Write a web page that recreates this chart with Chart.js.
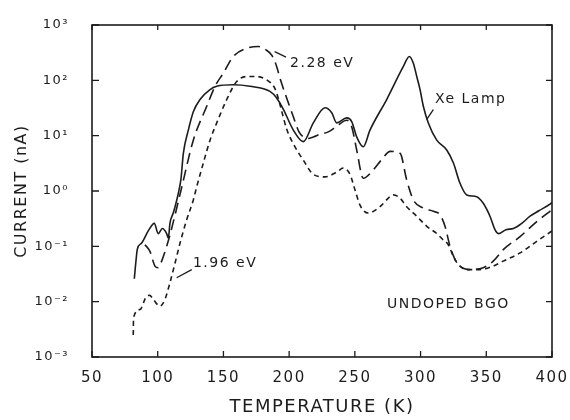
<!DOCTYPE html>
<html><head><meta charset="utf-8">
<script src="https://cdn.jsdelivr.net/npm/chart.js@4/dist/chart.umd.min.js"></script>
<style>html,body{margin:0;padding:0;background:#fff}</style>
</head><body>
<canvas id="c" width="570" height="420"></canvas>
<script>
// ---- data (temperature in K, current in nA) ----
const xeLampT = [82.2,83.5,84.5,87.8,92.8,97.4,100.4,103.5,106.8,108.1,109.3,111.8,113.2,115.7,117.7,119.5,123.3,127.1,132.2,139.8,144.9,157.5,170.2,185.4,190.5,195.6,203.2,210.8,218.4,227.3,232.4,236.2,243.8,247.6,251.4,256.4,261.5,274.2,286.9,291.4,294.5,297.1,299.6,302.1,305.9,312.3,319.9,325,330,335.1,342.7,347.7,352.8,356.6,359.2,365,370.6,377,383.3,390,398.5,400];
const xeLampI = [0.026,0.056,0.089,0.115,0.19,0.26,0.17,0.21,0.17,0.14,0.26,0.40,0.52,0.91,1.66,4.8,12.6,27,45,68,78,83,78,63,48,30,12.6,7.8,17,32,26,17,21,18,9.5,6.3,12.6,45,178,270,204,117,68,34,17,8.3,5.5,3.2,1.38,0.85,0.79,0.60,0.35,0.20,0.17,0.20,0.21,0.26,0.35,0.44,0.58,0.62];

const ev228T = [90.3,94.1,97.9,100.4,103,106.8,109.3,113.2,118,127.1,137.3,143.6,149.9,157.5,167.7,176.5,182,187,190.5,193,198.1,203.2,207.5,210.8,214,218.4,224,229.8,236.2,243.8,247.6,251.4,256.4,264,270,277,284.4,289.4,294.5,302.1,309.7,314.8,318.6,322.4,326.2,330,337.6,347.7,355.3,362.9,375.7,388.4,400];
const ev228I = [0.107,0.081,0.044,0.041,0.054,0.10,0.16,0.37,1.1,8.3,34,78,135,270,380,410,360,280,178,110,48,22,11.7,9.5,8.9,9.5,10.7,11.7,14.8,19,14.5,5.5,1.7,2.4,3.6,5.2,4.8,1.6,0.69,0.49,0.43,0.37,0.23,0.10,0.058,0.044,0.038,0.041,0.054,0.087,0.15,0.28,0.46];

const ev196T = [81.4,81.6,86.5,91.6,94,96.6,101.7,105.5,109.3,113.2,117,122,127.1,129.7,134.7,139.8,144.9,152.5,160.1,167.7,175.3,182.9,189.2,192,194.3,198.1,203.2,210.8,218.4,227.3,236.2,241.2,246.3,250.1,254,260.2,269.1,276.7,279.3,284.4,289.4,297.1,304.7,312.3,317.3,321.1,324.9,328.7,335.1,345.2,355.3,362.9,375.7,388.4,400];
const ev196I = [0.0025,0.0051,0.0072,0.0126,0.013,0.011,0.0083,0.011,0.022,0.050,0.115,0.30,0.69,1.2,3.2,8.3,17,45,95,117,117,102,71,45,28,13.2,7.1,3.6,2.0,1.8,2.2,2.6,2.0,1.05,0.55,0.40,0.52,0.79,0.85,0.74,0.52,0.35,0.23,0.17,0.13,0.107,0.066,0.047,0.038,0.038,0.044,0.054,0.076,0.123,0.19];

const xTicks = [50,100,150,200,250,300,350,400];
const yTicks = [1e-3,1e-2,1e-1,1e0,1e1,1e2,1e3];

// ---- annotations (data coordinates) ----
const notes = [
  {text:'2.28 eV', x:200.7, y:204, line:[[197.6,263],[189.0,330]]},
  {text:'1.96 eV', x:126.8, y:0.050, line:[[114.4,0.027],[125.9,0.038]]},
  {text:'Xe Lamp', x:311, y:45, line:[[309.7,29.5],[304.6,19.5]]},
  {text:'UNDOPED BGO', x:274.5, y:0.0091, line:null}
];

const INK = '#1c1c1c';
const FONT = "'DejaVu Sans', sans-serif";
const sup = {'-':'\u207B','0':'\u2070','1':'\u00B9','2':'\u00B2','3':'\u00B3'};

function pts(T, I){ return T.map((t,i)=>({x:t, y:I[i]})); }

const framePlugin = {
  id:'frame',
  beforeDraw(chart){
    chart.ctx.letterSpacing = '1.5px';
  },
  afterDraw(chart){
    const {ctx, chartArea:a, scales:{x, y}} = chart;
    ctx.save();
    ctx.strokeStyle = INK; ctx.lineWidth = 1.6;
    ctx.strokeRect(a.left, a.top, a.right-a.left, a.bottom-a.top);
    ctx.lineWidth = 1.3;
    ctx.beginPath();
    xTicks.forEach(v=>{
      const px = x.getPixelForValue(v);
      ctx.moveTo(px, a.bottom); ctx.lineTo(px, a.bottom-6);
      ctx.moveTo(px, a.top); ctx.lineTo(px, a.top+5);
    });
    yTicks.forEach(v=>{
      const py = y.getPixelForValue(v);
      ctx.moveTo(a.left, py); ctx.lineTo(a.left+7, py);
      ctx.moveTo(a.right, py); ctx.lineTo(a.right-6, py);
    });
    ctx.stroke();
    ctx.fillStyle = INK;
    ctx.font = "14px " + FONT;
    ctx.letterSpacing = '1.5px';
    ctx.textBaseline = 'middle'; ctx.textAlign = 'left';
    notes.forEach(n=>{
      ctx.fillText(n.text, x.getPixelForValue(n.x), y.getPixelForValue(n.y));
      if(n.line){
        ctx.beginPath();
        ctx.moveTo(x.getPixelForValue(n.line[0][0]), y.getPixelForValue(n.line[0][1]));
        ctx.lineTo(x.getPixelForValue(n.line[1][0]), y.getPixelForValue(n.line[1][1]));
        ctx.stroke();
      }
    });
    ctx.restore();
  }
};

const common = {borderColor:INK, borderWidth:1.6, pointRadius:0, fill:false, cubicInterpolationMode:'monotone'};

new Chart(document.getElementById('c'), {
  type:'line',
  data:{datasets:[
    Object.assign({label:'Xe Lamp', data:pts(xeLampT, xeLampI)}, common),
    Object.assign({label:'2.28 eV', data:pts(ev228T, ev228I), borderDash:[11,6]}, common),
    Object.assign({label:'1.96 eV', data:pts(ev196T, ev196I), borderDash:[5,4]}, common)
  ]},
  options:{
    responsive:false, animation:false, devicePixelRatio:1,
    layout:{padding:{top:25, right:18, left:0, bottom:0}},
    plugins:{legend:{display:false}, tooltip:{enabled:false}},
    scales:{
      x:{type:'linear', min:50, max:400,
        grid:{display:false, drawTicks:false}, border:{display:false},
        afterBuildTicks:s=>{ s.ticks = xTicks.map(v=>({value:v})); },
        afterFit:s=>{ s.height = 63; s.paddingLeft = 0; s.paddingRight = 0; },
        ticks:{color:INK, font:{family:FONT, size:15}, padding:12, maxRotation:0},
        title:{display:true, text:'TEMPERATURE (K)', color:INK, font:{family:FONT, size:18}, padding:{top:0,bottom:2}}
      },
      y:{type:'logarithmic', min:1e-3, max:1e3,
        grid:{display:false, drawTicks:false}, border:{display:false},
        afterBuildTicks:s=>{ s.ticks = yTicks.map(v=>({value:v})); },
        afterFit:s=>{ s.width = 92; s.paddingTop = 0; s.paddingBottom = 0; },
        ticks:{color:INK, font:{family:FONT, size:13}, padding:23,
          callback:v=>'10' + String(Math.round(Math.log10(v))).split('').map(c=>sup[c]).join('')},
        title:{display:true, text:'CURRENT (nA)', color:INK, font:{family:FONT, size:16}, padding:{top:12,bottom:0}}
      }
    }
  },
  plugins:[framePlugin]
});
</script>
</body></html>
